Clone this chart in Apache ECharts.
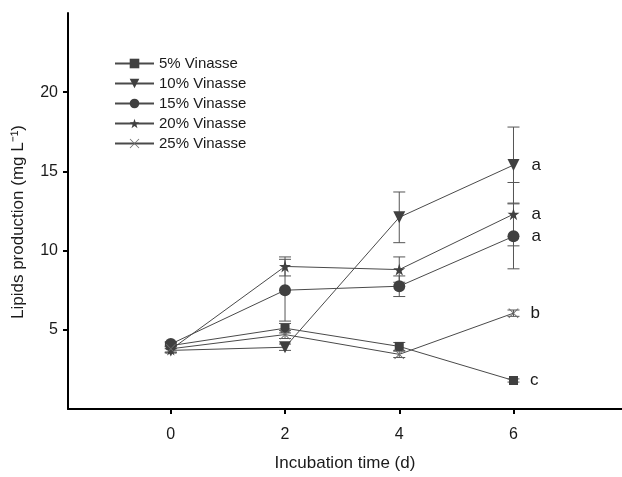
<!DOCTYPE html>
<html>
<head>
<meta charset="utf-8">
<script src="https://cdn.jsdelivr.net/npm/echarts@6/dist/echarts.min.js"></script>
<style>html,body{margin:0;padding:0;background:#fff}#c{width:622px;height:477px}</style>
</head>
<body>
<div id="c"></div>
<script>
var days = [0, 2, 4, 6];
var seriesNames = ['5% Vinasse', '10% Vinasse', '15% Vinasse', '20% Vinasse', '25% Vinasse'];
var v5 = [4.0, 5.1, 3.95, 1.8];
var v10 = [3.7, 3.9, 12.1, 15.4];
var v15 = [4.1, 7.5, 7.75, 10.9];
var v20 = [3.75, 9.0, 8.8, 12.3];
var v25 = [3.8, 4.7, 3.45, 6.05];
var e5 = [0.2, 0.3, 0.25, 0.1];
var e10 = [0.15, 0.2, 1.6, 2.4];
var e15 = [0.15, 1.95, 0.65, 2.05];
var e20 = [0.2, 0.6, 0.8, 2.0];
var e25 = [0.2, 0.25, 0.2, 0.2];
var letters = ['c', 'a', 'a', 'a', 'b'];
var xTicks = [0, 2, 4, 6];
var yTicks = [5, 10, 15, 20];

var values = [v5, v10, v15, v20, v25];
var errs = [e5, e10, e15, e20, e25];
var crossPath = 'path://M0,0.6L0.6,0L5,4.4L9.4,0L10,0.6L5.6,5L10,9.4L9.4,10L5,5.6L0.6,10L0,9.4L4.4,5Z';
var symbols = ['rect', 'triangle', 'circle', 'path://M5,0L6.18,3.62L10,3.62L6.91,5.86L8.09,9.5L5,7.25L1.91,9.5L3.09,5.86L0,3.62L3.82,3.62Z', crossPath];
var sizes = [9, 12, 12, 12, 10];
var rotates = [0, 180, 0, 0, 0];
var colors = ['#404040', '#404040', '#404040', '#404040', '#6a6a6a'];
var FONT = 'Arial, "Liberation Sans", sans-serif';

var series = [];
values.forEach(function (vals, si) {
  series.push({
    name: seriesNames[si],
    type: 'line',
    data: days.map(function (d, i) { return [d, vals[i]]; }),
    symbol: symbols[si],
    symbolSize: sizes[si],
    symbolRotate: rotates[si],
    z: 3,
    lineStyle: { color: '#4a4a4a', width: 1 },
    itemStyle: { color: colors[si], borderColor: colors[si], borderWidth: 0 },
    label: {
      show: true, position: 'right', distance: 12,
      fontFamily: FONT, fontSize: 17, color: '#1a1a1a',
      formatter: function (p) { return p.dataIndex === days.length - 1 ? letters[si] : ''; }
    },
    emphasis: { disabled: true },
    animation: false
  });
  series.push({
    type: 'custom',
    name: seriesNames[si] + ' err',
    data: days.map(function (d, i) { return [d, vals[i] - errs[si][i], vals[i] + errs[si][i]]; }),
    z: 2,
    renderItem: function (params, api) {
      var x = api.value(0);
      var lo = api.coord([x, api.value(1)]);
      var hi = api.coord([x, api.value(2)]);
      var hw = 6;
      var st = { stroke: '#555', lineWidth: 1, fill: null };
      return {
        type: 'group',
        children: [
          { type: 'line', shape: { x1: lo[0], y1: lo[1], x2: hi[0], y2: hi[1] }, style: st },
          { type: 'line', shape: { x1: lo[0] - hw, y1: lo[1], x2: lo[0] + hw, y2: lo[1] }, style: st },
          { type: 'line', shape: { x1: hi[0] - hw, y1: hi[1], x2: hi[0] + hw, y2: hi[1] }, style: st }
        ]
      };
    },
    animation: false,
    silent: true
  });
});

var chart = echarts.init(document.getElementById('c'), null, { renderer: 'canvas' });
chart.setOption({
  backgroundColor: '#fff',
  animation: false,
  grid: { left: 68, right: 0, top: 13, bottom: 65, containLabel: false },
  legend: {
    data: seriesNames,
    orient: 'vertical',
    left: 109, top: 51,
    itemWidth: 39, itemHeight: 12, itemGap: 5,
    textStyle: { fontFamily: FONT, fontSize: 15, color: '#1a1a1a', lineHeight: 15 },
    inactiveColor: '#404040'
  },
  xAxis: {
    type: 'value', min: -1.8, max: 7.9,
    name: 'Incubation time (d)', nameLocation: 'middle', nameGap: 46,
    nameTextStyle: { fontFamily: FONT, fontSize: 17, color: '#1a1a1a' },
    axisLine: { onZero: false, lineStyle: { color: '#000', width: 2 } },
    axisTick: { show: true, customValues: xTicks, length: 5, lineStyle: { color: '#000', width: 2 } },
    axisLabel: { customValues: xTicks, margin: 18, fontFamily: FONT, fontSize: 16, color: '#1a1a1a' },
    splitLine: { show: false }
  },
  yAxis: {
    type: 'value', min: 0, max: 25,
    axisLine: { show: true, onZero: false, lineStyle: { color: '#000', width: 2 } },
    axisTick: { show: true, customValues: yTicks, length: 5, lineStyle: { color: '#000', width: 2 } },
    axisLabel: { customValues: yTicks, margin: 10, fontFamily: FONT, fontSize: 16, color: '#1a1a1a' },
    splitLine: { show: false }
  },
  graphic: [{
    type: 'text', x: 18, y: 222, rotation: Math.PI / 2,
    style: { text: 'Lipids production (mg L\u207B\u00B9)', fontFamily: FONT, fontSize: 17, fill: '#1a1a1a',
      align: 'center', verticalAlign: 'middle' }
  }],
  series: series
});
</script>
</body>
</html>
